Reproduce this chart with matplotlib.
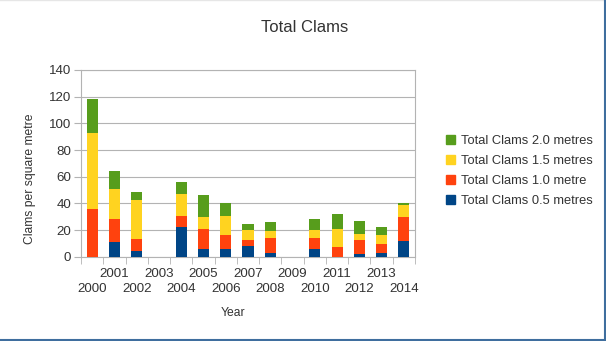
import numpy as np
import matplotlib.pyplot as plt
from matplotlib.patches import Patch
from matplotlib.lines import Line2D

plt.rcParams['font.family'] = ['Liberation Sans', 'DejaVu Sans']

years = list(range(2000, 2015))
# clams per square metre at each depth
clams_05 = [0, 11, 4, 0, 22.5, 6, 6, 8, 3, 0, 6, 0, 2, 2.5, 12]
clams_10 = [36, 17, 9, 0, 8, 15, 10.5, 4.5, 11, 0, 8, 7, 10.5, 7.25, 17.75]
clams_15 = [56.5, 23, 29.5, 0, 16.5, 9, 14, 7.5, 5, 0, 5.75, 13.75, 4.75, 6.75, 8.75]
clams_20 = [26, 13, 6, 0, 9, 16, 10, 4.5, 7, 0, 8.25, 11.25, 9.25, 6, 1.5]

series = [
    ('Total Clams 0.5 metres', clams_05, '#004586'),
    ('Total Clams 1.0 metre', clams_10, '#ff420e'),
    ('Total Clams 1.5 metres', clams_15, '#ffd320'),
    ('Total Clams 2.0 metres', clams_20, '#579d1c'),
]

W, H = 606, 341
fig = plt.figure(figsize=(W / 100, H / 100), dpi=100)
ax = fig.add_axes([81 / W, (H - 256.7) / H, 334 / W, 186.7 / H])

x = np.arange(len(years))
bottom = np.zeros(len(years))
for name, vals, col in series:
    ax.bar(x, vals, width=0.5, bottom=bottom, color=col, label=name, zorder=3)
    bottom += np.array(vals)

ax.set_xlim(-0.5, len(years) - 0.5)
ax.set_ylim(0, 140)
ax.set_yticks(range(0, 141, 20))
ax.grid(axis='y', color='#b3b3b3', linewidth=0.8, zorder=0)

# staggered year labels: odd years on the first row, even years below
odd = [i for i, y in enumerate(years) if y % 2]
even = [i for i, y in enumerate(years) if not y % 2]
ax.set_xticks(odd)
ax.set_xticklabels([str(years[i]) for i in odd])
ax.tick_params(axis='x', length=0, pad=8, labelsize=9.6, labelcolor='#333333')
ax.set_xticks(np.arange(-0.5, len(years), 1), minor=True)
ax.tick_params(axis='x', which='minor', length=5, color='#b3b3b3')

sec = ax.secondary_xaxis('bottom')
sec.set_xticks(even)
sec.set_xticklabels([str(years[i]) for i in even])
sec.tick_params(axis='x', length=0, pad=19, labelsize=9.6, labelcolor='#333333')
sec.spines['bottom'].set_visible(False)

ax.tick_params(axis='y', length=5, color='#b3b3b3', labelsize=9.6,
               labelcolor='#333333', pad=2)

for s in ax.spines.values():
    s.set_color('#b3b3b3')
    s.set_linewidth(0.8)

fig.text(305 / W, 1 - 27 / H, 'Total Clams', ha='center', va='center',
         fontsize=12, color='#333333')
fig.text(30 / W, 1 - 179 / H, 'Clams per square metre', rotation=90,
         ha='center', va='center', fontsize=8.7, color='#333333')
fig.text(233 / W, 1 - 313 / H, 'Year', ha='center', va='center',
         fontsize=8.7, color='#333333')

handles = [Patch(color=c) for _, _, c in series][::-1]
names = [n for n, _, _ in series][::-1]
fig.legend(handles, names, loc='center left',
           bbox_to_anchor=(434 / W, 1 - 171 / H), frameon=False,
           fontsize=9.3, handlelength=0.7, handleheight=0.7,
           handletextpad=0.5, labelspacing=0.6, labelcolor='#333333')

# thin frame around the image
fig.add_artist(Line2D([0, 1], [0.999, 0.999], transform=fig.transFigure,
                      color='#e6e6e6', linewidth=1))
fig.add_artist(Line2D([0.998, 0.998], [0, 1], transform=fig.transFigure,
                      color='#3f6e9e', linewidth=1.5))
fig.add_artist(Line2D([0, 1], [0.002, 0.002], transform=fig.transFigure,
                      color='#3f6e9e', linewidth=1.5))

fig.savefig('out.png', dpi=100)
